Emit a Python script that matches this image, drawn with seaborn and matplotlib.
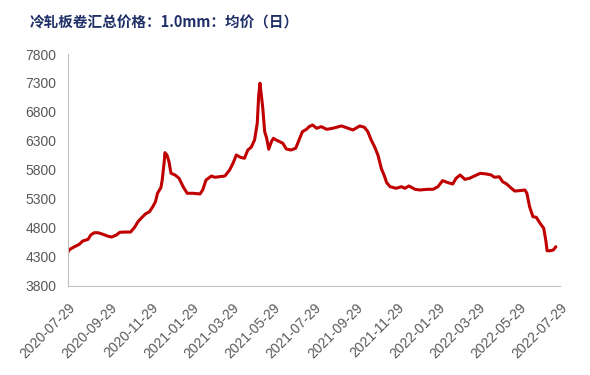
import matplotlib
matplotlib.use("Agg")
import matplotlib.pyplot as plt
import matplotlib.dates as mdates
import seaborn as sns
import pandas as pd

dates = [
    "2020-07-29", "2020-08-01", "2020-08-08", "2020-08-15", "2020-08-20", "2020-08-28",
    "2020-09-01", "2020-09-06", "2020-09-12", "2020-09-19", "2020-09-27", "2020-10-02",
    "2020-10-09", "2020-10-14", "2020-10-21", "2020-10-30", "2020-11-05", "2020-11-10",
    "2020-11-16", "2020-11-21", "2020-11-27", "2020-12-02", "2020-12-06", "2020-12-09",
    "2020-12-14", "2020-12-16", "2020-12-19", "2020-12-20", "2020-12-23", "2020-12-26",
    "2020-12-29", "2021-01-04", "2021-01-10", "2021-01-16", "2021-01-22", "2021-01-31",
    "2021-02-10", "2021-02-14", "2021-02-19", "2021-02-27", "2021-03-04", "2021-03-11",
    "2021-03-19", "2021-03-26", "2021-03-31", "2021-04-05", "2021-04-11", "2021-04-17",
    "2021-04-22", "2021-04-27", "2021-05-02", "2021-05-06", "2021-05-08", "2021-05-10",
    "2021-05-12", "2021-05-14", "2021-05-17", "2021-05-20", "2021-05-23", "2021-05-27",
    "2021-05-30", "2021-06-03", "2021-06-08", "2021-06-13", "2021-06-18", "2021-06-25",
    "2021-07-02", "2021-07-07", "2021-07-12", "2021-07-18", "2021-07-22", "2021-07-27",
    "2021-08-02", "2021-08-09", "2021-08-17", "2021-08-26", "2021-09-08", "2021-09-18",
    "2021-09-25", "2021-10-05", "2021-10-12", "2021-10-17", "2021-10-22", "2021-10-27",
    "2021-11-01", "2021-11-06", "2021-11-11", "2021-11-14", "2021-11-19", "2021-11-28",
    "2021-12-06", "2021-12-11", "2021-12-17", "2021-12-26", "2022-01-02", "2022-01-14",
    "2022-01-22", "2022-01-29", "2022-02-05", "2022-02-13", "2022-02-20", "2022-02-25",
    "2022-03-03", "2022-03-10", "2022-03-17", "2022-03-24", "2022-04-02", "2022-04-11",
    "2022-04-18", "2022-04-23", "2022-04-30", "2022-05-05", "2022-05-11", "2022-05-18",
    "2022-05-23", "2022-05-30", "2022-06-07", "2022-06-10", "2022-06-14", "2022-06-19",
    "2022-06-24", "2022-06-29", "2022-07-05", "2022-07-08", "2022-07-10", "2022-07-14",
    "2022-07-19", "2022-07-23",
]
prices = [
    4380, 4429, 4474, 4515, 4572, 4601,
    4676, 4715, 4715, 4688, 4653, 4641,
    4676, 4722, 4727, 4727, 4808, 4905,
    4981, 5038, 5078, 5164, 5251, 5396,
    5493, 5625, 5942, 6097, 6057, 5942,
    5741, 5712, 5655, 5510, 5396, 5396,
    5384, 5453, 5625, 5694, 5672, 5682,
    5694, 5798, 5914, 6057, 6017, 6000,
    6143, 6190, 6316, 6605, 7064, 7295,
    7093, 6891, 6460, 6345, 6156, 6287,
    6345, 6316, 6287, 6259, 6161, 6143,
    6173, 6316, 6460, 6500, 6546, 6575,
    6518, 6546, 6500, 6518, 6558, 6518,
    6489, 6558, 6535, 6460, 6316, 6200,
    6057, 5827, 5682, 5579, 5510, 5482,
    5510, 5482, 5522, 5465, 5453, 5465,
    5465, 5510, 5614, 5579, 5556, 5655,
    5712, 5637, 5655, 5694, 5741, 5729,
    5712, 5672, 5682, 5596, 5556, 5482,
    5435, 5441, 5453, 5396, 5164, 4992,
    4981, 4888, 4791, 4589, 4404, 4404,
    4416, 4473,
]
tick_dates = [
    "2020-07-29", "2020-09-29", "2020-11-29", "2021-01-29", "2021-03-29",
    "2021-05-29", "2021-07-29", "2021-09-29", "2021-11-29", "2022-01-29",
    "2022-03-29", "2022-05-29", "2022-07-29",
]
y_ticks = [3800, 4300, 4800, 5300, 5800, 6300, 6800, 7300, 7800]
title = "冷轧板卷汇总价格：1.0mm：均价（日）"

df = pd.DataFrame({"date": pd.to_datetime(dates), "price": prices})

sns.set_style("white")
plt.rcParams["font.family"] = ["Liberation Sans", "DejaVu Sans"]

fig = plt.figure(figsize=(5.9, 3.75), dpi=100)
ax = fig.add_axes([0.115, 0.238, 0.834, 0.618])

sns.lineplot(data=df, x="date", y="price", ax=ax, color="#C00000", linewidth=2.2)

ax.set_xlim(pd.Timestamp(tick_dates[0]), pd.Timestamp(tick_dates[-1]))
ax.set_ylim(y_ticks[0], y_ticks[-1])
ax.set_yticks(y_ticks)
ax.set_xticks(pd.to_datetime(tick_dates))
ax.xaxis.set_major_formatter(mdates.DateFormatter("%Y-%m-%d"))
ax.set_xlabel("")
ax.set_ylabel("")

for lab in ax.get_xticklabels():
    lab.set_rotation(45)
    lab.set_ha("right")
    lab.set_rotation_mode("anchor")

ax.tick_params(axis="both", labelsize=10, length=4, width=0.8,
               direction="out", labelcolor="#595959", color="#BFBFBF")
ax.tick_params(axis="x", pad=7)
ax.tick_params(axis="y", pad=4)
for s in ["top", "right"]:
    ax.spines[s].set_visible(False)
for s in ["left", "bottom"]:
    ax.spines[s].set_color("#BFBFBF")
    ax.spines[s].set_linewidth(0.8)
ax.grid(False)

fig.text(30 / 590, 1 - 23 / 375, title, family=["Noto Sans CJK SC", "DejaVu Sans"],
         fontsize=10.5, fontweight="bold", color="#1F3068", va="center", ha="left")

fig.savefig("out.png", dpi=100)
